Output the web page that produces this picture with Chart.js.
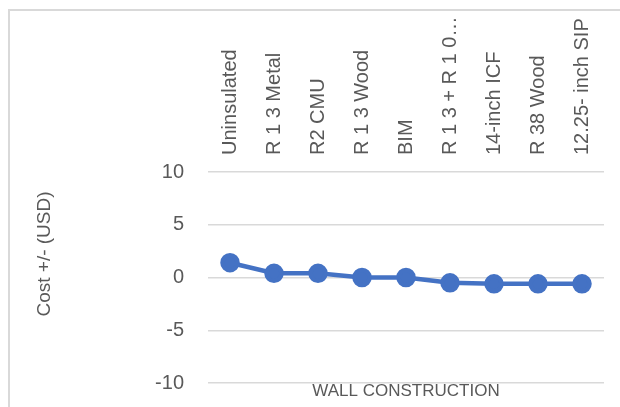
<!DOCTYPE html>
<html>
<head>
<meta charset="utf-8">
<script src="https://cdn.jsdelivr.net/npm/chart.js@4"></script>
<style>
  html, body { margin: 0; padding: 0; background: #fff; overflow: hidden; }
  #frame {
    position: absolute; left: 8px; top: 9px; width: 620px; height: 410px;
    border-left: 2px solid #d9d9d9; border-top: 2px solid #d9d9d9;
  }
  #chart { position: absolute; left: 0; top: 0; }
</style>
</head>
<body>
<div id="frame"></div>
<canvas id="chart" width="620" height="407"></canvas>
<script>
// wall types and cost difference
const categories = ["Uninsulated", "R 1 3 Metal", "R2 CMU", "R 1 3 Wood", "BIM",
  "R 1 3 + R 1 0…", "14-inch ICF", "R 38 Wood", "12.25- inch SIP"];
const costs = [1.4, 0.4, 0.4, 0, 0, -0.5, -0.6, -0.6, -0.6];
const yTicks = [-10, -5, 0, 5, 10];

const textColor = "#595959";
const fontFamily = "'Liberation Sans', Arial, sans-serif";

// y title drawn by hand, Excel puts it off-centre
const yTitle = {
  id: "yTitle",
  afterDraw(chart) {
    const ctx = chart.ctx;
    ctx.save();
    ctx.translate(45, 254);
    ctx.rotate(-Math.PI / 2);
    ctx.font = "19px " + fontFamily;
    ctx.fillStyle = textColor;
    ctx.textAlign = "center";
    ctx.textBaseline = "middle";
    ctx.fillText("Cost +/- (USD)", 0, 0);
    ctx.restore();
  }
};

new Chart(document.getElementById("chart"), {
  type: "line",
  data: {
    labels: categories,
    datasets: [{
      label: "Cost",
      data: costs,
      xAxisID: "x",
      borderColor: "#4472C4",
      backgroundColor: "#4472C4",
      borderWidth: 4.5,
      pointRadius: 7.5,
      pointHoverRadius: 7.5,
      tension: 0,
      fill: false
    }]
  },
  options: {
    responsive: false,
    animation: false,
    layout: { padding: { left: 0, right: 16, top: 0, bottom: 0 } },
    plugins: { legend: { display: false }, tooltip: { enabled: false } },
    scales: {
      x: {
        type: "category",
        position: "top",
        offset: true,
        grid: { display: false, drawTicks: false },
        border: { display: false },
        ticks: {
          color: textColor,
          font: { family: fontFamily, size: 20 },
          minRotation: 90,
          maxRotation: 90,
          autoSkip: false,
          padding: 17,
          labelOffset: 24
        },
        afterFit(scale) { scale.height = 172; }
      },
      x2: {
        type: "category",
        position: "bottom",
        labels: categories,
        grid: { display: false, drawTicks: false },
        border: { display: false },
        ticks: { display: false },
        title: {
          display: true,
          text: "WALL CONSTRUCTION",
          color: textColor,
          font: { family: fontFamily, size: 17 },
          padding: { top: 0, bottom: 5 }
        },
        afterFit(scale) { scale.height = 24; }
      },
      y: {
        min: -10,
        max: 10,
        grid: { color: "#d9d9d9", lineWidth: 1.5, drawTicks: true, tickLength: 12, tickColor: "rgba(0,0,0,0)" },
        border: { display: false },
        afterBuildTicks(scale) { scale.ticks = yTicks.map(v => ({ value: v })); },
        ticks: {
          color: textColor,
          font: { family: fontFamily, size: 20 },
          padding: 12
        },
        afterFit(scale) { scale.width = 208; }
      }
    }
  },
  plugins: [yTitle]
});
</script>
</body>
</html>
